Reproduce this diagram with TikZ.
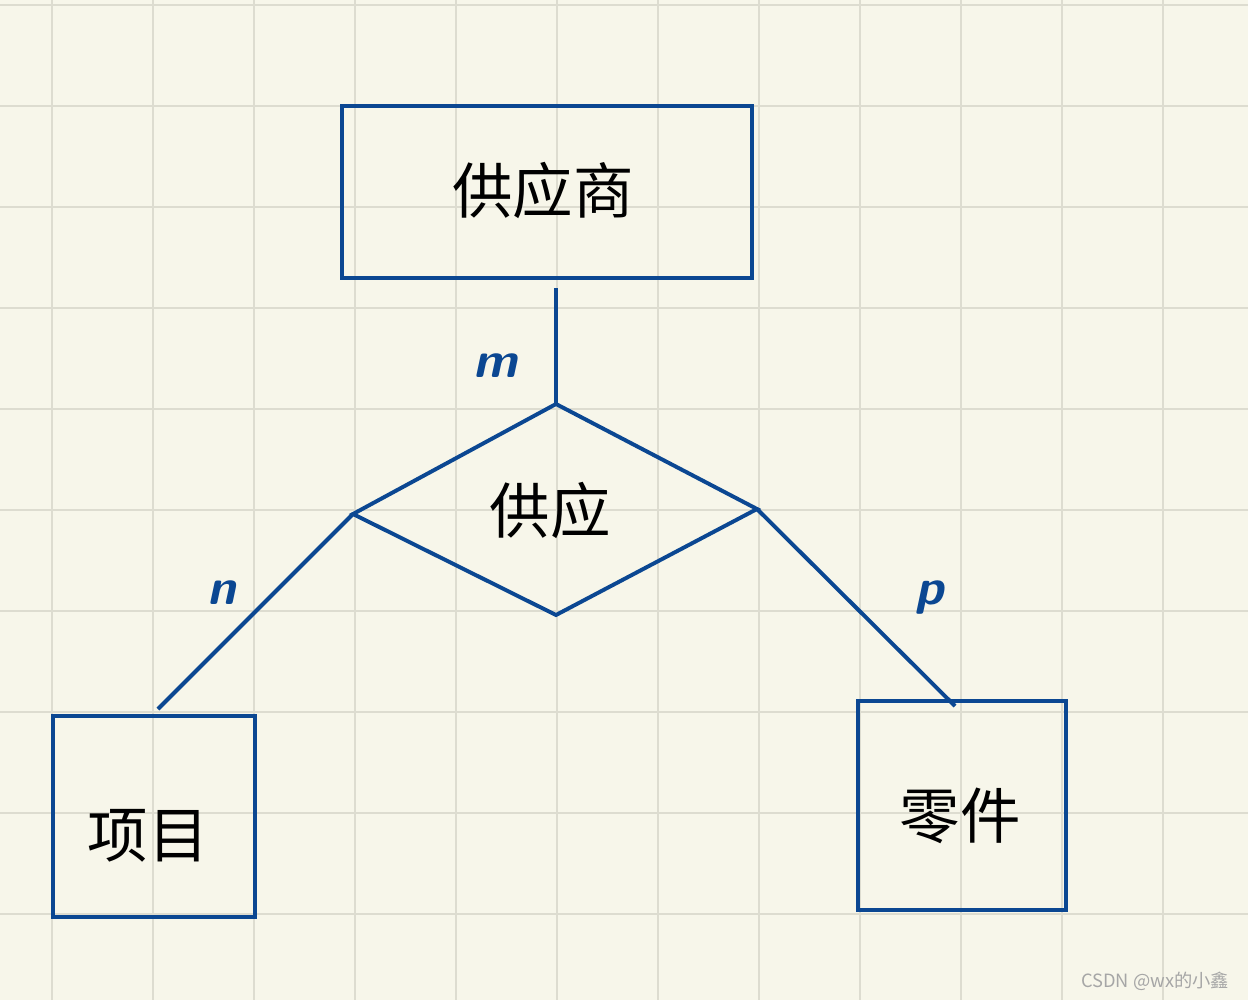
\documentclass[tikz,border=0pt]{standalone}
\usepackage{fontspec}
\newfontfamily\cjk{Noto Sans CJK SC}
\definecolor{bg}{HTML}{F7F6EA}
\definecolor{gridc}{HTML}{DDDCD0}
\definecolor{ink}{HTML}{0B4792}
\begin{document}
\begin{tikzpicture}[x=0.025cm,y=-0.025cm,
  ent/.style={draw=ink,line width=2.8pt,fill=none},
  conn/.style={draw=ink,line width=2.8pt},
  lbl/.style={font=\cjk\fontsize{43}{46}\selectfont},
  card/.style={text=ink,font=\itshape\bfseries\sffamily\fontsize{36}{38}\selectfont}]
\fill[bg] (0,0) rectangle (1248,1000);
\useasboundingbox (0,0) rectangle (1248,1000);
\foreach \x in {52,153,254,355,456,557,658,759,860,961,1062,1163}
  \draw[gridc,line width=1.6pt] (\x,0) -- (\x,1000);
\foreach \y in {5,106,207,308,409,510,611,712,813,914}
  \draw[gridc,line width=1.6pt] (0,\y) -- (1248,\y);
\draw[ent] (342,106) rectangle (752,278);
\node[lbl] (gys) at (543,190) {供应商};
\draw[ent] (53,716) rectangle (255,917);
\node[lbl] (xm) at (148,836) {项目};
\draw[ent] (858,701) rectangle (1066,910);
\node[lbl] (lj) at (960,816) {零件};
\coordinate (dt) at (556,404);
\coordinate (dl) at (353,514);
\coordinate (db) at (556,615);
\coordinate (dr) at (757,509);
\draw[ent,line join=miter] (dt) -- (dl) -- (db) -- (dr) -- cycle;
\node[lbl] (gy) at (550,510) {供应};
\coordinate (gysb) at (556,288);
\coordinate (xmt) at (158,709);
\coordinate (ljt) at (955,706);
\draw[conn] (gysb) -- (dt);
\draw[conn] (dl) -- (xmt);
\draw[conn] (dr) -- (ljt);
\node[card] (m) at (495,366) {m};
\node[card] (n) at (222,593) {n};
\node[card] (p) at (930,598) {p};
\node[text=gray!70,font=\cjk\fontsize{13}{15}\selectfont,anchor=east] (wm) at (1234,981) {CSDN @wx的小鑫};
\end{tikzpicture}
\end{document}
